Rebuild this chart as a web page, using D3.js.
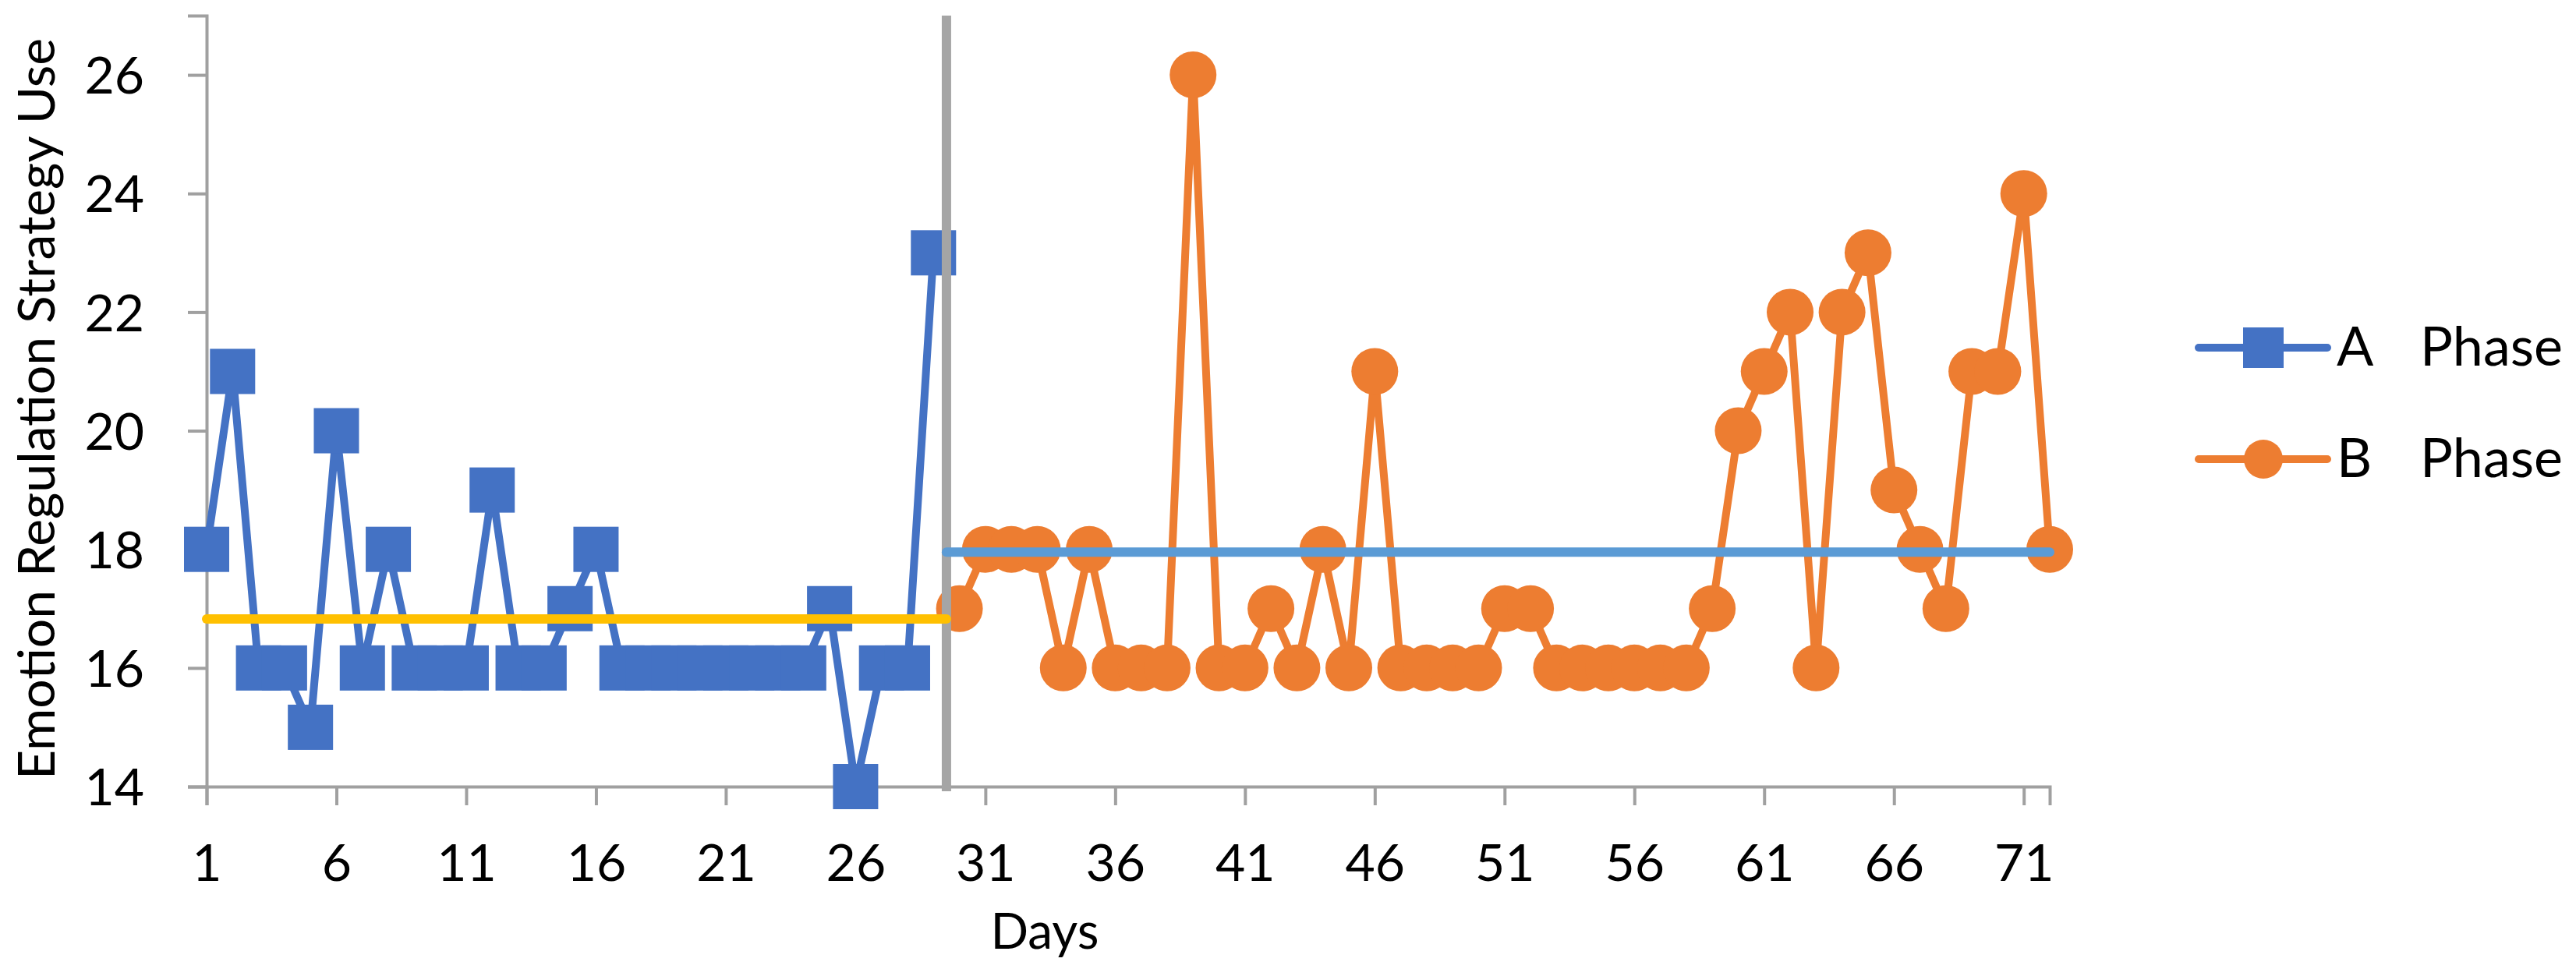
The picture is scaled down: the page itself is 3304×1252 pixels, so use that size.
<!DOCTYPE html>
<html>
<head>
<meta charset="utf-8">
<script src="https://cdn.jsdelivr.net/npm/d3@7"></script>
<style>
  body { margin: 0; background: #fff; }
  text { font-family: Lato, "Open Sans", sans-serif; fill: #000; }
</style>
</head>
<body>
<svg id="chart"></svg>
<script>
// data
const phaseA = [18, 21, 16, 16, 15, 20, 16, 18, 16, 16, 16, 19, 16, 16, 17, 18,
  16, 16, 16, 16, 16, 16, 16, 16, 17, 14, 16, 16, 23];
const phaseB = [17, 18, 18, 18, 16, 18, 16, 16, 16, 26, 16, 16, 17, 16, 18, 16,
  21, 16, 16, 16, 16, 17, 17, 16, 16, 16, 16, 16, 16, 17, 20, 21, 22, 16, 22, 23,
  19, 18, 17, 21, 21, 24, 18];
const firstDayA = 1;
const firstDayB = 30;
const lastDay = 72;
const xTicks = [1, 6, 11, 16, 21, 26, 31, 36, 41, 46, 51, 56, 61, 66, 71];
const yTicks = [14, 16, 18, 20, 22, 24, 26];
const yMax = 27;
const seriesNames = ["A", "B"];

const W = 3304, H = 1252;
const colA = "#4472C4", colB = "#ED7D31";
const axisCol = "#A0A0A0";

const svg = d3.select("#chart").attr("width", W).attr("height", H);

const x = d3.scaleLinear().domain([firstDayA, lastDay]).range([265, 2629]);
const y = d3.scaleLinear().domain([14, yMax]).range([1009, 20]);

const dataA = phaseA.map((v, i) => ({ day: firstDayA + i, value: v }));
const dataB = phaseB.map((v, i) => ({ day: firstDayB + i, value: v }));
const changeDay = (dataA[dataA.length - 1].day + firstDayB) / 2;

// Axes
const xAxis = svg.append("g")
  .attr("transform", `translate(0, ${y(14)})`)
  .call(d3.axisBottom(x).tickValues(xTicks).tickFormat(d3.format("d"))
    .tickSizeOuter(0).tickSize(24).tickPadding(50));
const yAxis = svg.append("g")
  .attr("transform", `translate(${x(firstDayA)}, 0)`)
  .call(d3.axisLeft(y).tickValues(yTicks).tickFormat(d3.format("d"))
    .tickSizeOuter(0).tickSize(24).tickPadding(56));
[xAxis, yAxis].forEach((g) => {
  g.select(".domain").attr("stroke", axisCol).attr("stroke-width", 4);
  g.selectAll(".tick line").attr("stroke", axisCol).attr("stroke-width", 4);
  g.selectAll(".tick text").attr("font-size", 66).attr("fill", "#000")
    .style("font-family", "Lato, 'Open Sans', sans-serif");
});
yAxis.selectAll(".tick text").attr("dy", "0.36em");

// axis titles
svg.append("text")
  .attr("transform", `translate(70, ${(y(14) + y(yMax)) / 2 + 10}) rotate(-90)`)
  .attr("text-anchor", "middle")
  .attr("font-size", 66)
  .text("Emotion Regulation Strategy Use");
svg.append("text")
  .attr("x", 1340).attr("y", 1217)
  .attr("text-anchor", "middle")
  .attr("font-size", 64)
  .text("Days");

const line = d3.line().x((d) => x(d.day)).y((d) => y(d.value));

// series A
svg.append("path").datum(dataA)
  .attr("fill", "none").attr("stroke", colA).attr("stroke-width", 10)
  .attr("stroke-linejoin", "round").attr("d", line);
svg.selectAll(".sqA").data(dataA).enter().append("rect")
  .attr("x", (d) => x(d.day) - 29).attr("y", (d) => y(d.value) - 29)
  .attr("width", 58).attr("height", 58).attr("fill", colA);

// series B
svg.append("path").datum(dataB)
  .attr("fill", "none").attr("stroke", colB).attr("stroke-width", 10)
  .attr("stroke-linejoin", "round").attr("d", line);
svg.selectAll(".dotB").data(dataB).enter().append("circle")
  .attr("cx", (d) => x(d.day)).attr("cy", (d) => y(d.value))
  .attr("r", 30).attr("fill", colB);

// phase change line
svg.append("line")
  .attr("x1", x(changeDay)).attr("x2", x(changeDay))
  .attr("y1", y(yMax)).attr("y2", y(14) + 6)
  .attr("stroke", "#A5A5A5").attr("stroke-width", 12);

// phase means
const meanA = d3.mean(phaseA), meanB = d3.mean(phaseB);
svg.append("line")
  .attr("x1", x(firstDayA)).attr("x2", x(changeDay))
  .attr("y1", y(meanA)).attr("y2", y(meanA))
  .attr("stroke", "#FFC000").attr("stroke-width", 12).attr("stroke-linecap", "round");
svg.append("line")
  .attr("x1", x(changeDay)).attr("x2", x(lastDay))
  .attr("y1", y(meanB)).attr("y2", y(meanB))
  .attr("stroke", "#5B9BD5").attr("stroke-width", 12).attr("stroke-linecap", "round");

// legend
const legend = svg.append("g").attr("transform", "translate(2820, 446)");
seriesNames.forEach((name, i) => {
  const g = legend.append("g").attr("transform", `translate(0, ${i * 143})`);
  const c = i === 0 ? colA : colB;
  g.append("line").attr("x1", 0).attr("x2", 165).attr("y1", 0).attr("y2", 0)
    .attr("stroke", c).attr("stroke-width", 10).attr("stroke-linecap", "round");
  if (i === 0) {
    g.append("rect").attr("x", 83 - 26).attr("y", -26).attr("width", 52).attr("height", 52).attr("fill", c);
  } else {
    g.append("circle").attr("cx", 83).attr("cy", 0).attr("r", 25).attr("fill", c);
  }
  const t = g.append("text").attr("x", 177).attr("y", 23).attr("font-size", 70);
  t.append("tspan").text(name);
  t.append("tspan").attr("x", 284).text("Phase");
});
</script>
</body>
</html>
